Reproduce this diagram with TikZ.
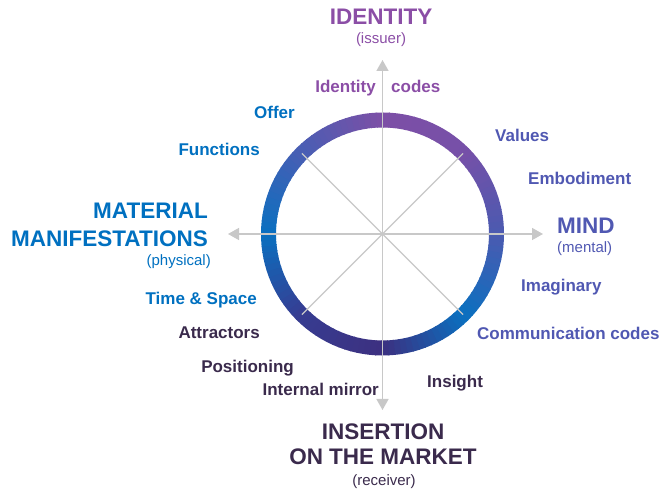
\documentclass[tikz,border=0pt]{standalone}
\usepackage{fontspec}
\setmainfont{Liberation Sans}
\usetikzlibrary{arrows.meta}

% text colours of the four poles
\definecolor{idpurple}{RGB}{139,78,166}
\definecolor{matblue}{RGB}{0,112,192}
\definecolor{mindblue}{RGB}{80,88,178}
\definecolor{mktdark}{RGB}{58,42,76}
\definecolor{axisgray}{RGB}{200,200,200}

% ring colours, every 45 degrees clockwise from the top
\definecolor{ringN}{RGB}{125,79,166}
\definecolor{ringNE}{RGB}{118,80,168}
\definecolor{ringE}{RGB}{75,90,176}
\definecolor{ringSE}{RGB}{10,112,192}
\definecolor{ringS}{RGB}{60,48,128}
\definecolor{ringSW}{RGB}{55,60,145}
\definecolor{ringW}{RGB}{10,112,192}
\definecolor{ringNW}{RGB}{72,94,180}

\tikzset{
  head/.style={font=\bfseries\fontsize{22.5}{22.5}\selectfont, inner sep=0pt},
  sub/.style={font=\fontsize{15}{15}\selectfont, inner sep=0pt},
  lbl/.style={font=\bfseries\fontsize{17}{17}\selectfont, inner sep=0pt},
  axis/.style={axisgray, line width=1.5pt,
    {Triangle[width=12pt,length=11pt]}-{Triangle[width=12pt,length=11pt]}},
  diag/.style={axisgray, line width=1.2pt},
  ringseg/.style={line width=15pt},
}

\begin{document}
\begin{tikzpicture}[x=1pt,y=1pt]
\useasboundingbox (0,0) rectangle (663,489);

\coordinate (O) at (382.5,255);
\coordinate (north) at (382.5,429);
\coordinate (south) at (382.5,79);
\coordinate (west) at (228,255);
\coordinate (east) at (543,255);
\path (O) ++(45:114) coordinate (ne);
\path (O) ++(135:114) coordinate (nw);
\path (O) ++(225:114) coordinate (sw);
\path (O) ++(315:114) coordinate (se);

% ring with a colour sweep, in 3 degree pieces
\foreach \sa/\ea/\ca/\cb in {90/45/ringN/ringNE, 45/0/ringNE/ringE,
    0/-45/ringE/ringSE, -45/-90/ringSE/ringS, -90/-135/ringS/ringSW,
    -135/-180/ringSW/ringW, -180/-225/ringW/ringNW, -225/-270/ringNW/ringN}
  \foreach \i in {0,...,14} {
    \pgfmathsetmacro\angA{\sa+(\ea-\sa)*\i/15}
    \pgfmathsetmacro\angB{\sa+(\ea-\sa)*(\i+1)/15-0.5}
    \pgfmathtruncatemacro\mix{(\i+0.5)*100/15}
    \draw[ringseg, color=\cb!\mix!\ca] (O) ++(\angA:114)
      arc[start angle=\angA, end angle=\angB, radius=114pt];
  }

% axes and diagonals
\draw[diag] (ne) -- (sw);
\draw[diag] (nw) -- (se);
\draw[axis] (west) -- (east);
\draw[axis] (north) -- (south);

% top pole
\node[head, idpurple, anchor=base] (identity) at (381,464) {IDENTITY};
\node[sub, idpurple, anchor=base] (issuer) at (381,445) {(issuer)};
\node[lbl, idpurple, anchor=base east] (idcodesa) at (376,396) {Identity};
\node[lbl, idpurple, anchor=base west] (idcodesb) at (391,396) {codes};

% left pole
\node[lbl, matblue, anchor=base east] (offer) at (295,370) {Offer};
\node[lbl, matblue, anchor=base east] (functions) at (260,333) {Functions};
\node[head, matblue, anchor=base east] (material) at (208,270.5) {MATERIAL};
\node[head, matblue, anchor=base east] (manif) at (208,242.3) {MANIFESTATIONS};
\node[sub, matblue, anchor=base east] (physical) at (211,223) {(physical)};
\node[lbl, matblue, anchor=base east] (timespace) at (257,184.5) {Time \& Space};

% bottom pole
\node[lbl, mktdark, anchor=base east] (attractors) at (260,150) {Attractors};
\node[lbl, mktdark, anchor=base east] (positioning) at (294,116.5) {Positioning};
\node[lbl, mktdark, anchor=base east] (mirror) at (379,93) {Internal mirror};
\node[lbl, mktdark, anchor=base west] (insight) at (427,101) {Insight};
\node[head, mktdark, anchor=base] (insertion) at (383,49.7) {INSERTION};
\node[head, mktdark, anchor=base] (market) at (383,24) {ON THE MARKET};
\node[sub, mktdark, anchor=base] (receiver) at (384,3.5) {(receiver)};

% right pole
\node[lbl, mindblue, anchor=base west] (values) at (495,347.3) {Values};
\node[lbl, mindblue, anchor=base west] (embodiment) at (528,304) {Embodiment};
\node[head, mindblue, anchor=base west] (mind) at (557,255.7) {MIND};
\node[sub, mindblue, anchor=base west] (mental) at (557,236.3) {(mental)};
\node[lbl, mindblue, anchor=base west] (imaginary) at (521,197.3) {Imaginary};
\node[lbl, mindblue, anchor=base west] (commcodes) at (477,149) {Communication codes};

\end{tikzpicture}
\end{document}
